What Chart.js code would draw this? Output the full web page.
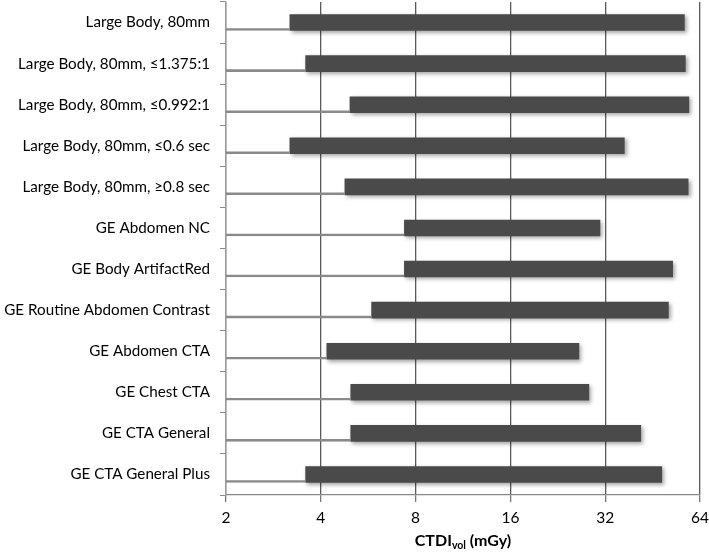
<!DOCTYPE html>
<html>
<head>
<meta charset="utf-8">
<script src="https://cdn.jsdelivr.net/npm/chart.js@4"></script>
<style>
  html, body { margin: 0; padding: 0; background: #fff; }
  #wrap { width: 709px; height: 555px; }
</style>
</head>
<body>
<div id="wrap"><canvas id="ctdiChart"></canvas></div>
<script>
// protocols, top to bottom
const categories = [
  'Large Body, 80mm',
  'Large Body, 80mm, ≤1.375:1',
  'Large Body, 80mm, ≤0.992:1',
  'Large Body, 80mm, ≤0.6 sec',
  'Large Body, 80mm, ≥0.8 sec',
  'GE Abdomen NC',
  'GE Body ArtifactRed',
  'GE Routine Abdomen Contrast',
  'GE Abdomen CTA',
  'GE Chest CTA',
  'GE CTA General',
  'GE CTA General Plus'
];
// CTDIvol range (mGy)
const lowValues = [3.19, 3.58, 4.95, 3.19, 4.77, 7.37, 7.37, 5.80, 4.18, 4.98, 4.98, 3.58];
const highValues = [57.1, 57.5, 59.0, 36.8, 58.7, 30.8, 52.4, 50.8, 26.4, 28.4, 41.5, 48.4];
const tickValues = [2, 4, 8, 16, 32, 64];

const fontFamily = 'Lato, "Open Sans", sans-serif';

document.addEventListener('DOMContentLoaded', function () {
  const ctx = document.getElementById('ctdiChart').getContext('2d');

  const shadowPlugin = {
    id: 'barShadow',
    beforeDatasetDraw(chart, args) {
      if (args.index !== 1) return;
      const c = chart.ctx;
      c.save();
      c.shadowColor = 'rgba(0,0,0,0.35)';
      c.shadowBlur = 4;
      c.shadowOffsetX = 2;
      c.shadowOffsetY = 2;
    },
    afterDatasetDraw(chart, args) {
      if (args.index !== 1) return;
      chart.ctx.restore();
    }
  };

  const axisTitlePlugin = {
    id: 'axisTitle',
    afterDraw(chart) {
      const c = chart.ctx;
      const area = chart.chartArea;
      const y = 546;
      c.save();
      c.fillStyle = '#000';
      c.textBaseline = 'alphabetic';
      const big = 'bold 16px ' + fontFamily;
      const small = 'bold 10.5px ' + fontFamily;
      c.font = big;
      const w1 = c.measureText('CTDI').width;
      const w3 = c.measureText(' (mGy)').width;
      c.font = small;
      const w2 = c.measureText('vol').width;
      let x = (area.left + area.right) / 2 - (w1 + w2 + w3) / 2;
      c.textAlign = 'left';
      c.font = big;
      c.fillText('CTDI', x, y);
      x += w1;
      c.font = small;
      c.fillText('vol', x, y + 3);
      x += w2;
      c.font = big;
      c.fillText(' (mGy)', x, y);
      c.restore();
    }
  };

  new Chart(ctx, {
    type: 'bar',
    data: {
      labels: categories,
      datasets: [{
        label: 'base',
        data: lowValues.map(v => [tickValues[0], v]),
        backgroundColor: 'rgba(0,0,0,0)',
        borderColor: '#8a8a8a',
        borderWidth: { top: 0, left: 0, right: 0, bottom: 2 },
        borderSkipped: false,
        grouped: false,
        barThickness: 16
      }, {
        label: 'CTDIvol range',
        data: lowValues.map((v, i) => [v, highValues[i]]),
        backgroundColor: '#4a4a4a',
        borderWidth: 0,
        grouped: false,
        barThickness: 16
      }]
    },
    options: {
      indexAxis: 'y',
      responsive: true,
      maintainAspectRatio: false,
      animation: false,
      layout: { padding: { top: 2, right: 9, left: 0, bottom: 0 } },
      plugins: {
        legend: { display: false },
        tooltip: { enabled: false }
      },
      scales: {
        x: {
          type: 'logarithmic',
          min: 2,
          max: 64,
          afterBuildTicks(scale) {
            scale.ticks = tickValues.map(v => ({ value: v }));
          },
          afterFit(scale) {
            scale.height = 60;
            scale.paddingLeft = 0;
            scale.paddingRight = 0;
          },
          ticks: {
            color: '#000',
            font: { family: fontFamily, size: 15.5 },
            padding: 7,
            maxRotation: 0,
            callback: v => String(v)
          },
          grid: {
            color: '#5a5a5a',
            lineWidth: 1.3,
            tickLength: 7,
            tickColor: '#777'
          },
          border: { color: '#888', width: 1.3 }
        },
        y: {
          afterFit(scale) {
            scale.width = 226;
            scale.paddingTop = 0;
            scale.paddingBottom = 0;
          },
          ticks: {
            color: '#000',
            font: { family: fontFamily, size: 15.2 },
            padding: 10
          },
          grid: {
            offset: true,
            drawOnChartArea: false,
            tickLength: 6,
            color: '#888'
          },
          border: { color: '#999', width: 1.3 }
        }
      }
    },
    plugins: [shadowPlugin, axisTitlePlugin]
  });
});
</script>
</body>
</html>
